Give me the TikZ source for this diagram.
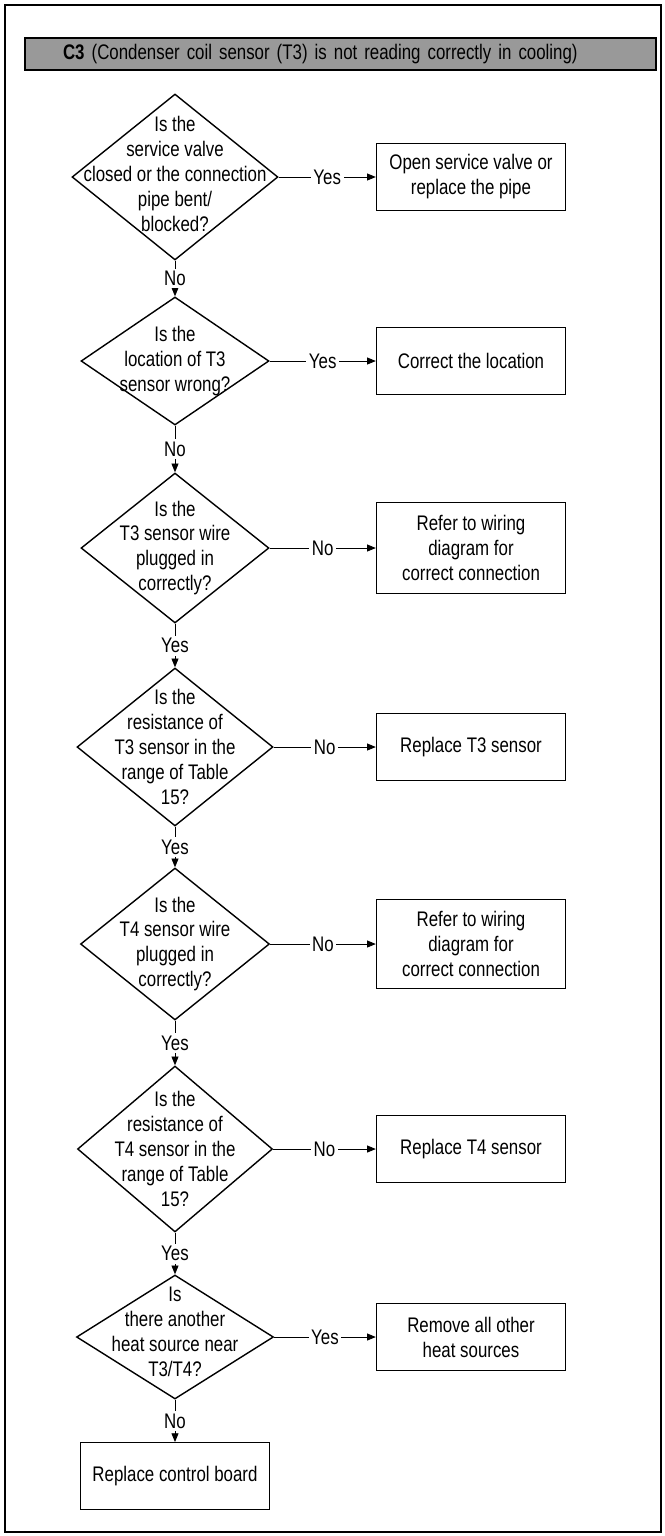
\documentclass[tikz,border=0pt]{standalone}
\usepackage{fontspec}
\setmainfont[FakeStretch=0.8]{Liberation Sans}
\usetikzlibrary{shapes.geometric,arrows.meta}

\begin{document}
\begin{tikzpicture}[x=0.02cm,y=-0.02cm,>={Triangle[length=5pt,width=4pt]},
	dec/.style={diamond,draw,line width=0.8pt,inner sep=0pt},
	qtext/.style={align=center,inner sep=0pt,font=\fontsize{12}{14.2}\selectfont},
	act/.style={draw,line width=0.8pt,minimum width=3.78cm,minimum height=1.33cm,align=center,font=\fontsize{12}{14.2}\selectfont},
	flow/.style={->,line width=0.5pt},
	ans/.style={fill=white,inner sep=1.5pt,font=\fontsize{12}{14.2}\selectfont}]
	\useasboundingbox (0,0) rectangle (664,1536);
	\draw[line width=0.8pt] (5,5) rectangle (661,1532);
	\node[draw,fill=black!40,line width=0.8pt,minimum height=0.64cm,inner xsep=0.76cm,text width=11.1cm,align=left,font=\fontsize{12}{14.2}\selectfont] (head) at (340.5,54) {\textbf{C3} (Condenser coil sensor (T3) is not reading correctly in cooling)};
	% questions
	\node[dec,minimum width=4.12cm,minimum height=3.32cm] (d1) at (175,177) {};
	\node[qtext] (q1) at ([yshift=0.06cm]d1) {Is the\\service valve\\closed or the connection\\pipe bent/\\blocked?};
	\node[dec,minimum width=3.76cm,minimum height=2.56cm] (d2) at (175,361) {};
	\node[qtext] (q2) at (d2) {Is the\\location of T3\\sensor wrong?};
	\node[dec,minimum width=3.76cm,minimum height=3.0cm] (d3) at (175,548) {};
	\node[qtext] (q3) at (d3) {Is the\\T3 sensor wire\\plugged in\\correctly?};
	\node[dec,minimum width=3.92cm,minimum height=3.16cm] (d4) at (175,747) {};
	\node[qtext] (q4) at (d4) {Is the\\resistance of\\T3 sensor in the\\range of Table\\15?};
	\node[dec,minimum width=3.78cm,minimum height=3.04cm] (d5) at (175,944) {};
	\node[qtext] (q5) at (d5) {Is the\\T4 sensor wire\\plugged in\\correctly?};
	\node[dec,minimum width=3.9cm,minimum height=3.32cm] (d6) at (175,1149) {};
	\node[qtext] (q6) at (d6) {Is the\\resistance of\\T4 sensor in the\\range of Table\\15?};
	\node[dec,minimum width=3.94cm,minimum height=2.48cm] (d7) at (175,1337) {};
	\node[qtext] (q7) at ([yshift=0.1cm]d7) {Is\\there another\\heat source near\\T3/T4?};
	% actions
	\node[act] (a1) at (471,177) {Open service valve or\\replace the pipe};
	\node[act] (a2) at (471,361) {Correct the location};
	\node[act,minimum height=1.82cm] (a3) at (471,548) {Refer to wiring\\diagram for\\correct connection};
	\node[act] (a4) at (471,747) {Replace T3 sensor};
	\node[act,minimum height=1.78cm] (a5) at (471,944) {Refer to wiring\\diagram for\\correct connection};
	\node[act] (a6) at (471,1149) {Replace T4 sensor};
	\node[act] (a7) at (471,1337) {Remove all other\\heat sources};
	\node[act] (a8) at (175,1476) {Replace control board};
	% connectors
	\draw[flow] (d1.east) -- node[ans] {Yes} (a1.west);
	\draw[flow] (d2.east) -- node[ans] {Yes} (a2.west);
	\draw[flow] (d3.east) -- node[ans] {No} (a3.west);
	\draw[flow] (d4.east) -- node[ans] {No} (a4.west);
	\draw[flow] (d5.east) -- node[ans] {No} (a5.west);
	\draw[flow] (d6.east) -- node[ans] {No} (a6.west);
	\draw[flow] (d7.east) -- node[ans] {Yes} (a7.west);
	\draw[flow] (d1.south) -- node[ans] {No} (d2.north);
	\draw[flow] (d2.south) -- node[ans] {No} (d3.north);
	\draw[flow] (d3.south) -- node[ans] {Yes} (d4.north);
	\draw[flow] (d4.south) -- node[ans] {Yes} (d5.north);
	\draw[flow] (d5.south) -- node[ans] {Yes} (d6.north);
	\draw[flow] (d6.south) -- node[ans] {Yes} (d7.north);
	\draw[flow] (d7.south) -- node[ans] {No} (a8.north);
\end{tikzpicture}
\end{document}
